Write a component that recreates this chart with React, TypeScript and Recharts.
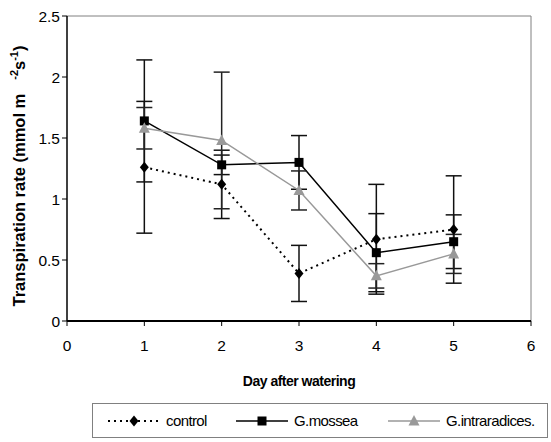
import { LineChart, Line, XAxis, YAxis, ErrorBar, ReferenceLine } from "recharts"

const days = [1, 2, 3, 4, 5]
const control = [1.26, 1.12, 0.39, 0.67, 0.75]
const controlErr = [0.54, 0.28, 0.23, 0.45, 0.44]
const mossea = [1.64, 1.28, 1.3, 0.56, 0.65]
const mosseaErr = [0.5, 0.08, 0.22, 0.32, 0.22]
const intra = [1.58, 1.48, 1.07, 0.37, 0.55]
const intraErr = [0.17, 0.56, 0.16, 0.1, 0.16]
const xTicks = [0, 1, 2, 3, 4, 5, 6]
const yTicks = [0, 0.5, 1, 1.5, 2, 2.5]

const data = days.map((d, i) => ({
  day: d,
  control: control[i],
  controlErr: controlErr[i],
  mossea: mossea[i],
  mosseaErr: mosseaErr[i],
  intra: intra[i],
  intraErr: intraErr[i],
}))

const FONT = '"Liberation Sans", Arial, sans-serif'
const GREY = "#999999"

const Diamond = (p: any) => {
  const { cx, cy, key } = p
  if (cx == null || cy == null) return null
  return <polygon key={key} points={`${cx},${cy - 5.5} ${cx + 4.5},${cy} ${cx},${cy + 5.5} ${cx - 4.5},${cy}`} fill="#000" />
}
const Square = (p: any) => {
  const { cx, cy, key } = p
  if (cx == null || cy == null) return null
  return <rect key={key} x={cx - 4.5} y={cy - 4.5} width={9} height={9} fill="#000" />
}
const Triangle = (p: any) => {
  const { cx, cy, key } = p
  if (cx == null || cy == null) return null
  return <polygon key={key} points={`${cx},${cy - 6} ${cx + 5.5},${cy + 4.5} ${cx - 5.5},${cy + 4.5}`} fill={GREY} />
}

function LegendItem({ kind, label }: { kind: string; label: string }) {
  const color = kind === "intra" ? GREY : "#000"
  return (
    <div style={{ display: "flex", alignItems: "center" }}>
      <svg width={52} height={14}>
        <line x1={0} y1={7} x2={52} y2={7} stroke={color} strokeWidth={kind === "control" ? 2 : 1.5} strokeDasharray={kind === "control" ? "2 4" : undefined} />
        {kind === "control" && <polygon points="26,1.5 30.5,7 26,12.5 21.5,7" fill="#000" />}
        {kind === "mossea" && <rect x={21.5} y={2.5} width={9} height={9} fill="#000" />}
        {kind === "intra" && <polygon points="26,1 31.5,11.5 20.5,11.5" fill={GREY} />}
      </svg>
      <span style={{ marginLeft: 6, fontSize: 15, letterSpacing: -0.6 }}>{label}</span>
    </div>
  )
}

export default function App() {
  return (
    <div style={{ position: "absolute", left: 0, top: 0, width: 551, height: 442, background: "#fff", fontFamily: FONT }}>
      <LineChart width={551} height={442} data={data} margin={{ top: 16, right: 20, left: 0, bottom: 61 }}>
        <XAxis
          dataKey="day"
          type="number"
          domain={[0, 6]}
          ticks={xTicks}
          height={60}
          tickSize={5}
          tickMargin={14}
          axisLine={{ stroke: "#000", strokeWidth: 2 }}
          tickLine={{ stroke: "#000" }}
          tick={{ fill: "#000", fontSize: 15.5, fontFamily: FONT }}
          label={{
            content: (props: any) => {
              const vb = props.viewBox || {}
              return (
                <text x={vb.x + vb.width / 2} y={386} textAnchor="middle" fontFamily={FONT} fontSize={14} fontWeight="bold" fill="#000" letterSpacing={-0.5}>
                  Day after watering
                </text>
              )
            },
          }}
        />
        <YAxis
          type="number"
          domain={[0, 2.5]}
          ticks={yTicks}
          width={67}
          tickSize={5}
          axisLine={{ stroke: "#000", strokeWidth: 1.5 }}
          tickLine={{ stroke: "#000" }}
          tick={{ fill: "#000", fontSize: 15.5, fontFamily: FONT }}
          label={{
            content: () => (
              <text transform="rotate(-90, 25, 176)" x={25} y={176} textAnchor="middle" fontFamily={FONT} fontSize={16.5} fontWeight="bold" fill="#000">
                Transpiration rate (mmol m<tspan dx={14} dy={-7} fontSize={11}>-2</tspan>
                <tspan dy={7}>s</tspan>
                <tspan dy={-7} fontSize={11}>-1</tspan>
                <tspan dy={7}>)</tspan>
              </text>
            ),
          }}
        />
        <ReferenceLine y={2.5} stroke="#808080" strokeWidth={1} />
        <ReferenceLine x={6} stroke="#808080" strokeWidth={1} />
        <Line dataKey="control" stroke="#000" strokeWidth={2} strokeDasharray="2 4" dot={Diamond} activeDot={false} isAnimationActive={false}>
          <ErrorBar dataKey="controlErr" direction="y" width={8} stroke="#111" strokeWidth={1.5} />
        </Line>
        <Line dataKey="mossea" stroke="#000" strokeWidth={1.5} dot={Square} activeDot={false} isAnimationActive={false}>
          <ErrorBar dataKey="mosseaErr" direction="y" width={8} stroke="#111" strokeWidth={1.5} />
        </Line>
        <Line dataKey="intra" stroke={GREY} strokeWidth={1.5} dot={Triangle} activeDot={false} isAnimationActive={false}>
          <ErrorBar dataKey="intraErr" direction="y" width={8} stroke="#222" strokeWidth={1.5} />
        </Line>
      </LineChart>
      <div
        style={{
          position: "absolute",
          left: 92,
          top: 403,
          width: 456,
          height: 35,
          border: "1px solid #808080",
          boxSizing: "border-box",
          display: "flex",
          alignItems: "center",
          color: "#000",
        }}
      >
        <div style={{ position: "absolute", left: 15 }}>
          <LegendItem kind="control" label="control" />
        </div>
        <div style={{ position: "absolute", left: 143 }}>
          <LegendItem kind="mossea" label="G.mossea" />
        </div>
        <div style={{ position: "absolute", left: 295 }}>
          <LegendItem kind="intra" label="G.intraradices." />
        </div>
      </div>
    </div>
  )
}
